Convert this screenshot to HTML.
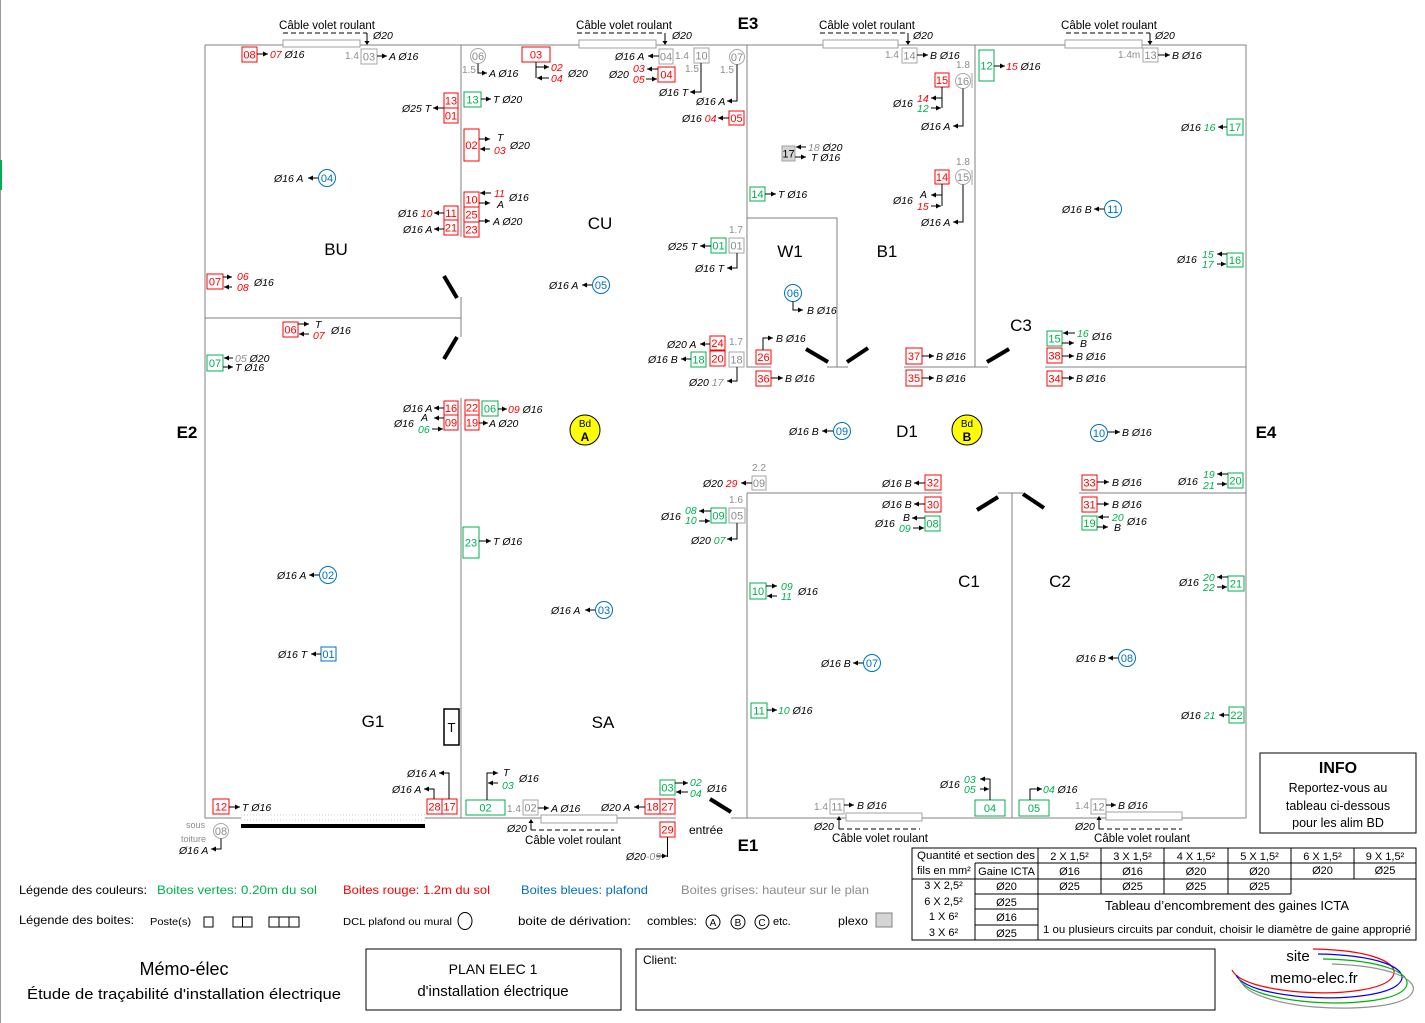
<!DOCTYPE html>
<html><head><meta charset="utf-8"><style>
html,body{margin:0;padding:0;background:#fff;}
svg{display:block}
text{font-family:"Liberation Sans",sans-serif;}
.t{font-size:10.5px;font-style:italic;fill:#000}
.n{font-size:11px;text-anchor:middle}
.R{fill:#f00}.G{fill:#00b050}.B{fill:#0070c0}.Y{fill:#8c8c8c}.K{fill:#000}
.br{fill:#fff;stroke:#f00}.bg{fill:#fff;stroke:#00b050}.bb{fill:#fff;stroke:#0070c0}.by{fill:#fff;stroke:#a6a6a6}
.w{stroke:#808080;fill:none;stroke-width:1}
.a{stroke:#000;stroke-width:1;fill:none;marker-end:url(#m)}
.p{stroke:#000;stroke-width:1;fill:none}
.d{stroke:#000;stroke-width:4}
.h{font-size:10px;fill:#8c8c8c}
.rm{font-size:17px;text-anchor:middle}
.E{font-size:17px;font-weight:bold;text-anchor:middle}
.cv{font-size:11.5px;text-anchor:middle}
.win{fill:#fff;stroke:#a0a0a0}
.dash{stroke:#000;stroke-dasharray:5,3;fill:none}
.tb{stroke:#000;fill:none;stroke-width:1}
.tt{font-size:11px;text-anchor:middle}
.lg{font-size:12px}
</style></head><body>
<svg width="1425" height="1023" viewBox="0 0 1425 1023" xmlns="http://www.w3.org/2000/svg">
<defs><marker id="m" markerWidth="6" markerHeight="6" refX="5" refY="2.5" orient="auto" markerUnits="userSpaceOnUse"><path d="M0,0L5,2.5L0,5z" fill="#000"/></marker></defs>
<rect x="0" y="0" width="1425" height="1023" fill="#fff"/>
<line x1="0.5" y1="0" x2="0.5" y2="1023" stroke="#999"/>
<rect x="0" y="160" width="2" height="30" fill="#00b050"/>

<!-- walls -->
<path class="w" d="M205,45H1246V818M205,45V818H241M425,818H676M731,818H1246M461,45V237M461,297V337M461,398V818M205,318H461M747,45V367H771M747,218H837V367M827,367H848M975,45V367M904,367H988M1045,367H1246M747,493V818M747,493H942M998,493H1023M1012,493V818M1079,493H1246"/>
<rect x="241" y="815" width="184" height="5" fill="none" stroke="#ccc" stroke-dasharray="1,2"/>
<line x1="241" y1="826" x2="425" y2="826" stroke="#000" stroke-width="4"/>

<!-- doors -->
<line class="d" x1="444" y1="276" x2="457" y2="298"/>
<line class="d" x1="444" y1="359" x2="457" y2="337"/>
<line class="d" x1="806" y1="349" x2="828" y2="362"/>
<line class="d" x1="847" y1="362" x2="868" y2="348"/>
<line class="d" x1="987" y1="362" x2="1009" y2="349"/>
<line class="d" x1="977" y1="510" x2="998" y2="497"/>
<line class="d" x1="1023" y1="494" x2="1044" y2="508"/>
<line class="d" x1="710" y1="799" x2="731" y2="812"/>

<!-- top cables -->
<text class="cv" x="327" y="29">Câble volet roulant</text>
<path class="dash" d="M283,33H367"/><path class="p" d="M367,33V41"/><path d="M364.5,41L369.5,41L367,45z"/>
<text class="t" x="373" y="39">Ø20</text>
<rect class="win" x="283" y="40" width="77" height="7"/>

<text class="cv" x="624" y="29">Câble volet roulant</text>
<path class="dash" d="M577,33H665"/><path class="p" d="M665,33V41"/><path d="M662.5,41L667.5,41L665,45z"/>
<text class="t" x="672" y="39">Ø20</text>
<rect class="win" x="579" y="40" width="77" height="8"/>

<text class="cv" x="867" y="29">Câble volet roulant</text>
<path class="dash" d="M820,33H908"/><path class="p" d="M908,33V41"/><path d="M905.5,41L910.5,41L908,45z"/>
<text class="t" x="913" y="39">Ø20</text>
<rect class="win" x="823" y="40" width="75" height="8"/>

<text class="cv" x="1109" y="29">Câble volet roulant</text>
<path class="dash" d="M1066,33H1150"/><path class="p" d="M1150,33V41"/><path d="M1147.5,41L1152.5,41L1150,45z"/>
<text class="t" x="1155" y="39">Ø20</text>
<rect class="win" x="1065" y="40" width="77" height="8"/>

<!-- E labels -->
<text class="E" x="748" y="29">E3</text>
<text class="E" x="187" y="438">E2</text>
<text class="E" x="1266" y="438">E4</text>
<text class="E" x="748" y="851">E1</text>

<!-- room labels -->
<text class="rm" x="336" y="255">BU</text>
<text class="rm" x="600" y="229">CU</text>
<text class="rm" x="790" y="257">W1</text>
<text class="rm" x="887" y="257">B1</text>
<text class="rm" x="1021" y="331">C3</text>
<text class="rm" x="907" y="437">D1</text>
<text class="rm" x="969" y="587">C1</text>
<text class="rm" x="1060" y="587">C2</text>
<text class="rm" x="373" y="727">G1</text>
<text class="rm" x="603" y="728">SA</text>

<!-- ===== RED BOXES ===== -->
<rect class="br" x="242" y="47" width="15" height="15"/><text class="n R" x="249.5" y="58.5">08</text>
<rect class="br" x="522" y="47" width="28" height="15"/><text class="n R" x="536" y="58.5">03</text>
<rect class="br" x="658" y="67" width="17" height="15"/><text class="n R" x="666.5" y="78.5">04</text>
<rect class="br" x="729" y="111" width="15" height="14"/><text class="n R" x="736.5" y="122">05</text>
<rect class="br" x="444" y="93" width="14" height="15"/><text class="n R" x="451" y="104.5">13</text>
<rect class="br" x="444" y="108" width="14" height="15"/><text class="n R" x="451" y="119.5">01</text>
<rect class="br" x="464" y="129" width="15" height="32"/><text class="n R" x="471.5" y="149">02</text>
<rect class="br" x="444" y="206" width="14" height="14"/><text class="n R" x="451" y="217">11</text>
<rect class="br" x="444" y="220" width="14" height="15"/><text class="n R" x="451" y="231.5">21</text>
<rect class="br" x="464" y="192" width="15" height="15"/><text class="n R" x="471.5" y="203.5">10</text>
<rect class="br" x="464" y="207" width="15" height="15"/><text class="n R" x="471.5" y="218.5">25</text>
<rect class="br" x="464" y="222" width="15" height="15"/><text class="n R" x="471.5" y="233.5">23</text>
<rect class="br" x="935" y="73" width="14" height="14"/><text class="n R" x="942" y="84">15</text>
<rect class="br" x="935" y="170" width="14" height="14"/><text class="n R" x="942" y="181">14</text>
<rect class="br" x="207" y="274" width="16" height="15"/><text class="n R" x="215" y="285.5">07</text>
<rect class="br" x="283" y="322" width="15" height="15"/><text class="n R" x="290.5" y="333.5">06</text>
<rect class="br" x="444" y="401" width="14" height="14"/><text class="n R" x="451" y="412">16</text>
<rect class="br" x="444" y="415" width="14" height="15"/><text class="n R" x="451" y="426.5">09</text>
<rect class="br" x="465" y="400" width="14" height="15"/><text class="n R" x="472" y="411.5">22</text>
<rect class="br" x="465" y="415" width="14" height="15"/><text class="n R" x="472" y="426.5">19</text>
<rect class="br" x="710" y="336" width="15" height="14"/><text class="n R" x="717.5" y="347">24</text>
<rect class="br" x="710" y="351" width="15" height="15"/><text class="n R" x="717.5" y="362.5">20</text>
<rect class="br" x="756" y="350" width="15" height="14"/><text class="n R" x="763.5" y="361">26</text>
<rect class="br" x="756" y="371" width="15" height="15"/><text class="n R" x="763.5" y="382.5">36</text>
<rect class="br" x="906" y="348" width="16" height="16"/><text class="n R" x="914" y="360">37</text>
<rect class="br" x="906" y="370" width="16" height="16"/><text class="n R" x="914" y="382">35</text>
<rect class="br" x="1047" y="348" width="15" height="15"/><text class="n R" x="1054.5" y="359.5">38</text>
<rect class="br" x="1047" y="371" width="15" height="15"/><text class="n R" x="1054.5" y="382.5">34</text>
<rect class="br" x="925" y="475" width="16" height="15"/><text class="n R" x="933" y="486.5">32</text>
<rect class="br" x="925" y="497" width="16" height="15"/><text class="n R" x="933" y="508.5">30</text>
<rect class="br" x="1082" y="475" width="15" height="15"/><text class="n R" x="1089.5" y="486.5">33</text>
<rect class="br" x="1082" y="497" width="15" height="15"/><text class="n R" x="1089.5" y="508.5">31</text>
<rect class="br" x="213" y="799" width="16" height="15"/><text class="n R" x="221" y="810.5">12</text>
<rect class="br" x="427" y="799" width="15" height="15"/><text class="n R" x="434.5" y="810.5">28</text>
<rect class="br" x="442" y="799" width="15" height="15"/><text class="n R" x="449.5" y="810.5">17</text>
<rect class="br" x="645" y="799" width="15" height="15"/><text class="n R" x="652.5" y="810.5">18</text>
<rect class="br" x="660" y="799" width="15" height="15"/><text class="n R" x="667.5" y="810.5">27</text>
<rect class="br" x="660" y="822" width="15" height="15"/><text class="n R" x="667.5" y="833.5">29</text>

<!-- ===== GREEN BOXES ===== -->
<rect class="bg" x="464" y="92" width="17" height="15"/><text class="n G" x="472.5" y="103.5">13</text>
<rect class="bg" x="979" y="50" width="15" height="31"/><text class="n G" x="986.5" y="69.5">12</text>
<rect class="bg" x="750" y="187" width="15" height="14"/><text class="n G" x="757.5" y="198">14</text>
<rect class="bg" x="1227" y="119" width="16" height="16"/><text class="n G" x="1235" y="131">17</text>
<rect class="bg" x="1227" y="253" width="16" height="14"/><text class="n G" x="1235" y="264">16</text>
<rect class="bg" x="711" y="238" width="15" height="15"/><text class="n G" x="718.5" y="249.5">01</text>
<rect class="bg" x="691" y="352" width="15" height="15"/><text class="n G" x="698.5" y="363.5">18</text>
<rect class="bg" x="207" y="355" width="16" height="16"/><text class="n G" x="215" y="367">07</text>
<rect class="bg" x="482" y="401" width="16" height="15"/><text class="n G" x="490" y="412.5">06</text>
<rect class="bg" x="1047" y="331" width="15" height="15"/><text class="n G" x="1054.5" y="342.5">15</text>
<rect class="bg" x="711" y="508" width="15" height="15"/><text class="n G" x="718.5" y="519.5">09</text>
<rect class="bg" x="925" y="516" width="15" height="15"/><text class="n G" x="932.5" y="527.5">08</text>
<rect class="bg" x="1082" y="516" width="15" height="14"/><text class="n G" x="1089.5" y="527">19</text>
<rect class="bg" x="1228" y="473" width="15" height="15"/><text class="n G" x="1235.5" y="484.5">20</text>
<rect class="bg" x="463" y="527" width="16" height="31"/><text class="n G" x="471" y="546.5">23</text>
<rect class="bg" x="750" y="583" width="16" height="16"/><text class="n G" x="758" y="595">10</text>
<rect class="bg" x="1228" y="576" width="16" height="15"/><text class="n G" x="1236" y="587.5">21</text>
<rect class="bg" x="751" y="703" width="16" height="15"/><text class="n G" x="759" y="714.5">11</text>
<rect class="bg" x="1229" y="707" width="15" height="16"/><text class="n G" x="1236.5" y="719">22</text>
<rect class="bg" x="466" y="800" width="39" height="15"/><text class="n G" x="485.5" y="811.5">02</text>
<rect class="bg" x="660" y="780" width="15" height="15"/><text class="n G" x="667.5" y="791.5">03</text>
<rect class="bg" x="975" y="800" width="30" height="16"/><text class="n G" x="990" y="812">04</text>
<rect class="bg" x="1019" y="800" width="30" height="16"/><text class="n G" x="1034" y="812">05</text>

<!-- ===== GREY BOXES ===== -->
<rect class="by" x="361" y="49" width="16" height="15"/><text class="n Y" x="369" y="60.5">03</text>
<rect class="by" x="659" y="49" width="14" height="15"/><text class="n Y" x="666" y="60.5">04</text>
<rect class="by" x="694" y="48" width="15" height="15"/><text class="n Y" x="701.5" y="59.5">10</text>
<rect class="by" x="902" y="48" width="15" height="15"/><text class="n Y" x="909.5" y="59.5">14</text>
<rect class="by" x="1143" y="48" width="15" height="14"/><text class="n Y" x="1150.5" y="59">13</text>
<rect class="by" x="729" y="238" width="15" height="15"/><text class="n Y" x="736.5" y="249.5">01</text>
<rect class="by" x="729" y="352" width="15" height="15"/><text class="n Y" x="736.5" y="363.5">18</text>
<rect class="by" x="752" y="476" width="14" height="14"/><text class="n Y" x="759" y="487">09</text>
<rect class="by" x="729" y="508" width="16" height="15"/><text class="n Y" x="737" y="519.5">05</text>
<rect class="by" x="523" y="800" width="15" height="15"/><text class="n Y" x="530.5" y="811.5">02</text>
<rect class="by" x="830" y="799" width="14" height="15"/><text class="n Y" x="837" y="810.5">11</text>
<rect class="by" x="1091" y="799" width="15" height="15"/><text class="n Y" x="1098.5" y="810.5">12</text>

<!-- grey circles -->
<circle cx="478" cy="56" r="7.5" fill="#fff" stroke="#a6a6a6"/><text class="n Y" x="478" y="60">06</text>
<circle cx="737" cy="57" r="7.5" fill="#fff" stroke="#a6a6a6"/><text class="n Y" x="737" y="61">07</text>
<circle cx="963" cy="81" r="7.5" fill="#fff" stroke="#a6a6a6"/><text class="n Y" x="963" y="85">16</text>
<circle cx="963" cy="177" r="7.5" fill="#fff" stroke="#a6a6a6"/><text class="n Y" x="963" y="181">15</text>
<circle cx="221" cy="831" r="7.5" fill="#fff" stroke="#a6a6a6"/><text class="n Y" x="221" y="835">08</text>
<line x1="972" y1="73" x2="972" y2="88" stroke="#a6a6a6"/>
<line x1="972" y1="170" x2="972" y2="185" stroke="#a6a6a6"/>

<!-- blue circles -->
<circle cx="327" cy="178" r="8.5" fill="#fff" stroke="#0070c0"/><text class="n B" x="327" y="182">04</text>
<circle cx="601" cy="285" r="8.5" fill="#fff" stroke="#0070c0"/><text class="n B" x="601" y="289">05</text>
<circle cx="793" cy="293" r="8.5" fill="#fff" stroke="#0070c0"/><text class="n B" x="793" y="297">06</text>
<circle cx="1113" cy="209" r="8.5" fill="#fff" stroke="#0070c0"/><text class="n B" x="1113" y="213">11</text>
<circle cx="842" cy="431" r="8.5" fill="#fff" stroke="#0070c0"/><text class="n B" x="842" y="435">09</text>
<circle cx="1099" cy="433" r="8.5" fill="#fff" stroke="#0070c0"/><text class="n B" x="1099" y="437">10</text>
<circle cx="328" cy="575" r="8.5" fill="#fff" stroke="#0070c0"/><text class="n B" x="328" y="579">02</text>
<circle cx="604" cy="610" r="8.5" fill="#fff" stroke="#0070c0"/><text class="n B" x="604" y="614">03</text>
<circle cx="872" cy="663" r="8.5" fill="#fff" stroke="#0070c0"/><text class="n B" x="872" y="667">07</text>
<circle cx="1127" cy="658" r="8.5" fill="#fff" stroke="#0070c0"/><text class="n B" x="1127" y="662">08</text>
<rect class="bb" x="321" y="647" width="15" height="14"/><text class="n B" x="328.5" y="658">01</text>

<!-- plexo 17 -->
<rect x="782" y="146" width="13" height="15" fill="#d4d4d4" stroke="#a0a0a0"/><text class="n K" x="788.5" y="157.5">17</text>

<!-- Bd circles -->
<circle cx="585" cy="430" r="15" fill="#ffff00" stroke="#000"/>
<text x="585" y="427" font-size="10" text-anchor="middle">Bd</text>
<text x="585" y="441" font-size="12" font-weight="bold" text-anchor="middle">A</text>
<circle cx="967" cy="430" r="15" fill="#ffff00" stroke="#000"/>
<text x="967" y="427" font-size="10" text-anchor="middle">Bd</text>
<text x="967" y="441" font-size="12" font-weight="bold" text-anchor="middle">B</text>

<!-- T box -->
<rect x="444" y="709" width="15" height="36" fill="#fff" stroke="#000" stroke-width="1.5"/>
<text x="451.5" y="732" font-size="13" text-anchor="middle">T</text>

<!-- ===== LABELS & ARROWS: top ===== -->
<line class="a" x1="257" y1="54" x2="268" y2="54"/>
<text class="t" x="270" y="58"><tspan class="R">07</tspan> Ø16</text>
<text class="h" x="345" y="59">1.4</text>
<line class="a" x1="377" y1="56" x2="387" y2="56"/>
<text class="t" x="389" y="60">A Ø16</text>

<text class="h" x="462" y="73">1.5</text>
<path class="a" d="M478,63.5V73H487"/>
<text class="t" x="489" y="77">A Ø16</text>

<path class="p" d="M536,62V78"/>
<line class="a" x1="536" y1="67" x2="549" y2="67"/>
<line class="a" x1="549" y1="78" x2="537" y2="78"/>
<text class="t R" x="551" y="71">02</text><text class="t R" x="551" y="82">04</text>
<text class="t" x="568" y="77">Ø20</text>

<line class="a" x1="659" y1="56" x2="648" y2="56"/>
<text class="t" x="615" y="60">Ø16 A</text>
<text class="h" x="675" y="59">1.4</text>

<line class="a" x1="658" y1="69" x2="647" y2="69"/>
<line class="a" x1="646" y1="79" x2="657" y2="79"/>
<text class="t" x="609" y="78">Ø20</text>
<text class="t R" x="633" y="72">03</text><text class="t R" x="633" y="83">05</text>

<text class="h" x="685" y="72">1.5</text>
<path class="a" d="M701,63V92H690"/>
<text class="t" x="659" y="96">Ø16 T</text>
<text class="h" x="720" y="73">1.5</text>
<path class="a" d="M737,64.5V101H727"/>
<text class="t" x="696" y="105">Ø16 A</text>
<line class="a" x1="729" y1="118" x2="718" y2="118"/>
<text class="t" x="682" y="122">Ø16 <tspan class="R">04</tspan></text>

<line class="a" x1="444" y1="108" x2="433" y2="108"/>
<text class="t" x="402" y="112">Ø25 T</text>
<line class="a" x1="481" y1="99" x2="491" y2="99"/>
<text class="t" x="493" y="103">T Ø20</text>
<line class="a" x1="479" y1="139" x2="490" y2="139"/>
<text class="t" x="497" y="141">T</text>
<line class="a" x1="490" y1="149" x2="480" y2="149"/>
<text class="t R" x="494" y="154">03</text>
<text class="t" x="510" y="149">Ø20</text>

<line class="a" x1="318" y1="178" x2="308" y2="178"/>
<text class="t" x="274" y="182">Ø16 A</text>

<line class="a" x1="444" y1="213" x2="434" y2="213"/>
<text class="t" x="398" y="217">Ø16 <tspan class="R">10</tspan></text>
<line class="a" x1="444" y1="229" x2="434" y2="229"/>
<text class="t" x="403" y="233">Ø16 A</text>

<line class="a" x1="491" y1="193" x2="480" y2="193"/>
<text class="t R" x="494" y="197">11</text>
<line class="a" x1="479" y1="203" x2="490" y2="203"/>
<text class="t" x="497" y="208">A</text>
<text class="t" x="509" y="201">Ø16</text>
<line class="a" x1="479" y1="221" x2="490" y2="221"/>
<text class="t" x="493" y="225">A Ø20</text>

<line class="a" x1="806" y1="147" x2="796" y2="147"/>
<text class="t" x="808" y="151"><tspan class="Y">18</tspan> Ø20</text>
<line class="a" x1="795" y1="157" x2="806" y2="157"/>
<text class="t" x="811" y="161">T Ø16</text>
<line class="a" x1="765" y1="194" x2="776" y2="194"/>
<text class="t" x="778" y="198">T Ø16</text>

<text class="h" x="885" y="58">1.4</text>
<line class="a" x1="917" y1="55" x2="928" y2="55"/>
<text class="t" x="930" y="59">B Ø16</text>

<text class="h" x="956" y="68">1.8</text>
<path class="p" d="M942,87V108"/>
<line class="a" x1="942" y1="98" x2="931" y2="98"/>
<line class="a" x1="931" y1="108" x2="941" y2="108"/>
<text class="t R" x="917" y="102">14</text><text class="t G" x="917" y="112">12</text>
<text class="t" x="893" y="107">Ø16</text>
<path class="a" d="M963,88.5V126H953"/>
<text class="t" x="921" y="130">Ø16 A</text>

<text class="h" x="956" y="165">1.8</text>
<path class="p" d="M942,184V206"/>
<line class="a" x1="942" y1="195" x2="931" y2="195"/>
<text class="t" x="920" y="198">A</text>
<line class="a" x1="931" y1="206" x2="941" y2="206"/>
<text class="t R" x="917" y="210">15</text>
<text class="t" x="893" y="204">Ø16</text>
<path class="a" d="M963,184.5V222H953"/>
<text class="t" x="921" y="226">Ø16 A</text>

<line class="a" x1="994" y1="66" x2="1005" y2="66"/>
<text class="t" x="1006" y="70"><tspan class="R">15</tspan> Ø16</text>

<text class="h" x="1118" y="58">1.4m</text>
<line class="a" x1="1158" y1="55" x2="1170" y2="55"/>
<text class="t" x="1172" y="59">B Ø16</text>

<line class="a" x1="1227" y1="127" x2="1218" y2="127"/>
<text class="t" x="1181" y="131">Ø16 <tspan class="G">16</tspan></text>
<line class="a" x1="1104" y1="209" x2="1094" y2="209"/>
<text class="t" x="1062" y="213">Ø16 B</text>
<line class="a" x1="1227" y1="254" x2="1217" y2="254"/>
<line class="a" x1="1217" y1="264" x2="1226" y2="264"/>
<text class="t G" x="1202" y="258">15</text><text class="t G" x="1202" y="268">17</text>
<text class="t" x="1177" y="263">Ø16</text>

<!-- ===== middle ===== -->
<text class="h" x="729" y="233">1.7</text>
<line class="a" x1="711" y1="246" x2="700" y2="246"/>
<text class="t" x="668" y="250">Ø25 T</text>
<path class="a" d="M737,253V268H727"/>
<text class="t" x="695" y="272">Ø16 T</text>

<line class="a" x1="592" y1="285" x2="582" y2="285"/>
<text class="t" x="549" y="289">Ø16 A</text>
<path class="a" d="M793,301.5V310H803"/>
<text class="t" x="807" y="314">B Ø16</text>

<text class="h" x="729" y="345">1.7</text>
<line class="a" x1="710" y1="344" x2="700" y2="344"/>
<text class="t" x="667" y="348">Ø20 A</text>
<line class="a" x1="691" y1="359" x2="681" y2="359"/>
<text class="t" x="648" y="363">Ø16 B</text>
<path class="a" d="M737,367V381H727"/>
<text class="t" x="689" y="386">Ø20 <tspan class="Y">17</tspan></text>

<path class="a" d="M763,350V338H773"/>
<text class="t" x="776" y="342">B Ø16</text>
<line class="a" x1="771" y1="378" x2="783" y2="378"/>
<text class="t" x="785" y="382">B Ø16</text>
<line class="a" x1="922" y1="356" x2="934" y2="356"/>
<text class="t" x="936" y="360">B Ø16</text>
<line class="a" x1="922" y1="378" x2="934" y2="378"/>
<text class="t" x="936" y="382">B Ø16</text>

<line class="a" x1="1075" y1="333" x2="1063" y2="333"/>
<text class="t G" x="1077" y="337">16</text>
<line class="a" x1="1062" y1="343" x2="1074" y2="343"/>
<text class="t" x="1080" y="347">B</text>
<text class="t" x="1092" y="340">Ø16</text>
<line class="a" x1="1062" y1="356" x2="1074" y2="356"/>
<text class="t" x="1076" y="360">B Ø16</text>
<line class="a" x1="1062" y1="378" x2="1074" y2="378"/>
<text class="t" x="1076" y="382">B Ø16</text>

<line class="a" x1="223" y1="277" x2="232" y2="277"/>
<line class="a" x1="232" y1="287" x2="224" y2="287"/>
<text class="t R" x="237" y="280">06</text><text class="t R" x="237" y="291">08</text>
<text class="t" x="254" y="286">Ø16</text>

<line class="a" x1="298" y1="324" x2="309" y2="324"/>
<text class="t" x="315" y="328">T</text>
<line class="a" x1="309" y1="334" x2="299" y2="334"/>
<text class="t R" x="313" y="339">07</text>
<text class="t" x="331" y="334">Ø16</text>

<line class="a" x1="233" y1="358" x2="224" y2="358"/>
<text class="t" x="235" y="362"><tspan class="Y">05</tspan> Ø20</text>
<line class="a" x1="223" y1="367" x2="233" y2="367"/>
<text class="t" x="235" y="371">T Ø16</text>

<line class="a" x1="444" y1="408" x2="434" y2="408"/>
<text class="t" x="403" y="412">Ø16 A</text>
<line class="a" x1="444" y1="418" x2="434" y2="418"/>
<text class="t" x="421" y="421">A</text>
<line class="a" x1="432" y1="429" x2="443" y2="429"/>
<text class="t G" x="418" y="433">06</text>
<text class="t" x="394" y="427">Ø16</text>

<line class="a" x1="498" y1="409" x2="507" y2="409"/>
<text class="t" x="508" y="413"><tspan class="R">09</tspan> Ø16</text>
<line class="a" x1="479" y1="423" x2="488" y2="423"/>
<text class="t" x="489" y="427">A Ø20</text>

<line class="a" x1="833" y1="431" x2="822" y2="431"/>
<text class="t" x="789" y="435">Ø16 B</text>
<line class="a" x1="1108" y1="432" x2="1120" y2="432"/>
<text class="t" x="1122" y="436">B Ø16</text>

<!-- ===== lower ===== -->
<text class="h" x="752" y="471">2.2</text>
<line class="a" x1="752" y1="483" x2="741" y2="483"/>
<text class="t" x="703" y="487">Ø20 <tspan class="R">29</tspan></text>
<text class="h" x="729" y="503">1.6</text>
<line class="a" x1="711" y1="511" x2="699" y2="511"/>
<text class="t G" x="685" y="514">08</text>
<line class="a" x1="699" y1="521" x2="710" y2="521"/>
<text class="t G" x="685" y="524">10</text>
<text class="t" x="661" y="520">Ø16</text>
<path class="a" d="M737,523V539H727"/>
<text class="t" x="691" y="544">Ø20 <tspan class="G">07</tspan></text>

<line class="a" x1="479" y1="541" x2="491" y2="541"/>
<text class="t" x="493" y="545">T Ø16</text>

<line class="a" x1="925" y1="483" x2="914" y2="483"/>
<text class="t" x="882" y="487">Ø16 B</text>
<line class="a" x1="925" y1="504" x2="914" y2="504"/>
<text class="t" x="882" y="508">Ø16 B</text>
<line class="a" x1="925" y1="518" x2="912" y2="518"/>
<text class="t" x="903" y="521">B</text>
<line class="a" x1="913" y1="528" x2="924" y2="528"/>
<text class="t G" x="899" y="532">09</text>
<text class="t" x="875" y="527">Ø16</text>

<line class="a" x1="1097" y1="482" x2="1109" y2="482"/>
<text class="t" x="1112" y="486">B Ø16</text>
<line class="a" x1="1097" y1="504" x2="1109" y2="504"/>
<text class="t" x="1112" y="508">B Ø16</text>
<line class="a" x1="1109" y1="517" x2="1098" y2="517"/>
<text class="t G" x="1112" y="521">20</text>
<line class="a" x1="1097" y1="527" x2="1108" y2="527"/>
<text class="t" x="1114" y="531">B</text>
<text class="t" x="1127" y="525">Ø16</text>

<line class="a" x1="1228" y1="474" x2="1217" y2="474"/>
<text class="t G" x="1203" y="478">19</text>
<line class="a" x1="1217" y1="484" x2="1227" y2="484"/>
<text class="t G" x="1203" y="489">21</text>
<text class="t" x="1178" y="485">Ø16</text>

<line class="a" x1="766" y1="586" x2="777" y2="586"/>
<text class="t G" x="781" y="590">09</text>
<line class="a" x1="777" y1="596" x2="767" y2="596"/>
<text class="t G" x="781" y="600">11</text>
<text class="t" x="798" y="595">Ø16</text>

<line class="a" x1="1228" y1="577" x2="1217" y2="577"/>
<text class="t G" x="1203" y="581">20</text>
<line class="a" x1="1217" y1="587" x2="1227" y2="587"/>
<text class="t G" x="1203" y="591">22</text>
<text class="t" x="1179" y="586">Ø16</text>

<line class="a" x1="319" y1="575" x2="309" y2="575"/>
<text class="t" x="277" y="579">Ø16 A</text>
<line class="a" x1="595" y1="610" x2="585" y2="610"/>
<text class="t" x="551" y="614">Ø16 A</text>
<line class="a" x1="321" y1="654" x2="311" y2="654"/>
<text class="t" x="278" y="658">Ø16 T</text>
<line class="a" x1="863" y1="663" x2="853" y2="663"/>
<text class="t" x="821" y="667">Ø16 B</text>
<line class="a" x1="1118" y1="658" x2="1108" y2="658"/>
<text class="t" x="1076" y="662">Ø16 B</text>
<line class="a" x1="767" y1="710" x2="777" y2="710"/>
<text class="t" x="778" y="714"><tspan class="G">10</tspan> Ø16</text>
<line class="a" x1="1229" y1="715" x2="1219" y2="715"/>
<text class="t" x="1181" y="719">Ø16 <tspan class="G">21</tspan></text>

<!-- ===== bottom ===== -->
<line class="a" x1="229" y1="807" x2="240" y2="807"/>
<text class="t" x="242" y="811">T Ø16</text>
<path class="a" d="M449,799V773H439"/>
<text class="t" x="407" y="777">Ø16 A</text>
<path class="a" d="M434,799V789H424"/>
<text class="t" x="392" y="793">Ø16 A</text>

<text class="h" x="186" y="828" style="font-size:9px">sous</text>
<text class="h" x="181" y="842" style="font-size:9px">toiture</text>
<path class="a" d="M221,838.5V849H211"/>
<text class="t" x="179" y="854">Ø16 A</text>

<path class="a" d="M487,800V773H498"/>
<text class="t" x="503" y="776">T</text>
<line class="a" x1="498" y1="783" x2="488" y2="783"/>
<text class="t G" x="502" y="789">03</text>
<text class="t" x="519" y="782">Ø16</text>

<text class="h" x="507" y="812">1.4</text>
<line class="a" x1="538" y1="808" x2="549" y2="808"/>
<text class="t" x="551" y="812">A Ø16</text>
<rect class="win" x="541" y="815" width="76" height="8"/>
<path d="M528.5,823L533.5,823L531,819z"/>
<path class="p" d="M531,823V830"/><path class="dash" d="M531,830H614"/>
<text class="t" x="507" y="832">Ø20</text>
<text class="cv" x="573" y="844">Câble volet roulant</text>

<line class="a" x1="645" y1="807" x2="634" y2="807"/>
<text class="t" x="601" y="811">Ø20 A</text>
<line class="a" x1="675" y1="783" x2="688" y2="783"/>
<text class="t G" x="690" y="786">02</text>
<line class="a" x1="688" y1="792" x2="676" y2="792"/>
<text class="t G" x="690" y="797">04</text>
<text class="t" x="707" y="792">Ø16</text>

<path class="p" d="M667.5,837V857"/>
<line class="a" x1="656" y1="856" x2="667" y2="856"/>
<text class="t" x="626" y="860">Ø20<tspan class="Y">-09</tspan></text>
<text x="689" y="834" font-size="12">entrée</text>

<text class="h" x="814" y="810">1.4</text>
<line class="a" x1="844" y1="805" x2="854" y2="805"/>
<text class="t" x="857" y="809">B Ø16</text>
<rect class="win" x="846" y="813" width="76" height="8"/>
<path d="M836.5,820L841.5,820L839,816z"/>
<path class="p" d="M839,820V829"/><path class="dash" d="M839,829H920"/>
<text class="t" x="814" y="830">Ø20</text>
<text class="cv" x="880" y="842">Câble volet roulant</text>

<path class="p" d="M990,800V779"/>
<line class="a" x1="990" y1="779" x2="980" y2="779"/>
<line class="a" x1="980" y1="789" x2="989" y2="789"/>
<text class="t G" x="964" y="783">03</text><text class="t G" x="964" y="793">05</text>
<text class="t" x="940" y="788">Ø16</text>

<path class="a" d="M1030,800V789H1042"/>
<text class="t" x="1043" y="793"><tspan class="G">04</tspan> Ø16</text>

<text class="h" x="1075" y="809">1.4</text>
<line class="a" x1="1106" y1="805" x2="1116" y2="805"/>
<text class="t" x="1118" y="809">B Ø16</text>
<rect class="win" x="1106" y="812" width="76" height="8"/>
<path d="M1096.5,820L1101.5,820L1099,816z"/>
<path class="p" d="M1099,820V829"/><path class="dash" d="M1099,829H1182"/>
<text class="t" x="1075" y="830">Ø20</text>
<text class="cv" x="1142" y="842">Câble volet roulant</text>

<!-- INFO -->
<rect x="1260" y="753" width="156" height="80" fill="#fff" stroke="#000"/>
<text x="1338" y="773" font-size="16" font-weight="bold" text-anchor="middle">INFO</text>
<text x="1338" y="792" font-size="12.5" text-anchor="middle">Reportez-vous au</text>
<text x="1338" y="810" font-size="12.5" text-anchor="middle">tableau ci-dessous</text>
<text x="1338" y="827" font-size="12.5" text-anchor="middle">pour les alim BD</text>

<!-- table -->
<rect class="tb" x="912" y="848" width="504" height="92"/>
<path class="tb" d="M975,863V940M1038,848V940M1101,848V894M1164,848V894M1228,848V894M1291,848V894M1354,848V879M975,863H1416M912,879H1416M975,894H1291M975,909H1038M975,925H1038"/>
<text x="917" y="859" font-size="11" textLength="118" lengthAdjust="spacingAndGlyphs">Quantité et section des</text>
<text x="917" y="874" font-size="11">fils en mm²</text>
<text class="tt" x="1006.5" y="875">Gaine ICTA</text>
<text class="tt" x="1069.5" y="860">2 X 1,5²</text>
<text class="tt" x="1132.5" y="860">3 X 1,5²</text>
<text class="tt" x="1196" y="860">4 X 1,5²</text>
<text class="tt" x="1259.5" y="860">5 X 1,5²</text>
<text class="tt" x="1322.5" y="860">6 X 1,5²</text>
<text class="tt" x="1385" y="860">9 X 1,5²</text>
<text class="tt" x="1069.5" y="875">Ø16</text>
<text class="tt" x="1132.5" y="875">Ø16</text>
<text class="tt" x="1196" y="875">Ø20</text>
<text class="tt" x="1259.5" y="875">Ø20</text>
<text class="tt" x="1322.5" y="874">Ø20</text>
<text class="tt" x="1385" y="874">Ø25</text>
<text class="tt" x="943.5" y="889">3 X 2,5²</text>
<text class="tt" x="1006.5" y="890">Ø20</text>
<text class="tt" x="1069.5" y="890">Ø25</text>
<text class="tt" x="1132.5" y="890">Ø25</text>
<text class="tt" x="1196" y="890">Ø25</text>
<text class="tt" x="1259.5" y="890">Ø25</text>
<text class="tt" x="943.5" y="905">6 X 2,5²</text>
<text class="tt" x="1006.5" y="906">Ø25</text>
<text class="tt" x="943.5" y="920">1 X 6²</text>
<text class="tt" x="1006.5" y="921">Ø16</text>
<text class="tt" x="943.5" y="936">3 X 6²</text>
<text class="tt" x="1006.5" y="937">Ø25</text>
<text x="1227" y="910" font-size="12.5" text-anchor="middle" textLength="244" lengthAdjust="spacingAndGlyphs">Tableau d’encombrement des gaines ICTA</text>
<text x="1227" y="933" font-size="11" text-anchor="middle" textLength="368" lengthAdjust="spacingAndGlyphs">1 ou plusieurs circuits par conduit, choisir le diamètre de gaine approprié</text>

<!-- legend -->
<text class="lg" x="19" y="894" textLength="128" lengthAdjust="spacingAndGlyphs">Légende des couleurs:</text>
<text class="lg" x="157" y="894" fill="#00b050" textLength="160" lengthAdjust="spacingAndGlyphs">Boites vertes:  0.20m du sol</text>
<text class="lg" x="343" y="894" fill="#f00" textLength="147" lengthAdjust="spacingAndGlyphs">Boites rouge: 1.2m du sol</text>
<text class="lg" x="521" y="894" fill="#0070c0" textLength="127" lengthAdjust="spacingAndGlyphs">Boites bleues: plafond</text>
<text class="lg" x="681" y="894" fill="#8c8c8c" textLength="188" lengthAdjust="spacingAndGlyphs">Boites grises: hauteur sur le plan</text>
<text class="lg" x="19" y="924" textLength="115" lengthAdjust="spacingAndGlyphs">Légende des boites:</text>
<text x="150" y="925" font-size="10" textLength="41" lengthAdjust="spacingAndGlyphs">Poste(s)</text>
<rect x="204" y="917" width="9" height="10" fill="none" stroke="#000"/>
<rect x="233" y="917" width="19" height="10" fill="none" stroke="#000"/><line x1="242.5" y1="917" x2="242.5" y2="927" stroke="#000"/>
<rect x="269" y="917" width="30" height="10" fill="none" stroke="#000"/><line x1="279" y1="917" x2="279" y2="927" stroke="#000"/><line x1="289" y1="917" x2="289" y2="927" stroke="#000"/>
<text x="343" y="925" font-size="10" textLength="109" lengthAdjust="spacingAndGlyphs">DCL plafond ou mural</text>
<ellipse cx="465" cy="921" rx="7" ry="8.5" fill="none" stroke="#000"/>
<text class="lg" x="518" y="925" textLength="113" lengthAdjust="spacingAndGlyphs">boite de dérivation:</text>
<text class="lg" x="647" y="925" textLength="50" lengthAdjust="spacingAndGlyphs">combles:</text>
<circle cx="713" cy="922" r="7" fill="none" stroke="#000"/><text x="713" y="926" font-size="10" text-anchor="middle">A</text>
<circle cx="738" cy="922" r="7" fill="none" stroke="#000"/><text x="738" y="926" font-size="10" text-anchor="middle">B</text>
<circle cx="762" cy="922" r="7" fill="none" stroke="#000"/><text x="762" y="926" font-size="10" text-anchor="middle">C</text>
<text x="773" y="925" font-size="11">etc.</text>
<text class="lg" x="838" y="925" textLength="30" lengthAdjust="spacingAndGlyphs">plexo</text>
<rect x="876" y="913" width="16" height="14" fill="#d4d4d4" stroke="#808080"/>

<!-- title blocks -->
<text x="184" y="975" font-size="18" text-anchor="middle">Mémo-élec</text>
<text x="184" y="999" font-size="15" text-anchor="middle" textLength="314" lengthAdjust="spacingAndGlyphs">Étude de traçabilité d'installation électrique</text>
<rect x="366" y="949" width="255" height="61" fill="#fff" stroke="#000"/>
<text x="493" y="974" font-size="14" text-anchor="middle">PLAN ELEC 1</text>
<text x="493" y="996" font-size="15" text-anchor="middle">d'installation électrique</text>
<rect x="636" y="949" width="579" height="61" fill="#fff" stroke="#000"/>
<text x="643" y="964" font-size="12">Client:</text>

<!-- logo -->
<path d="M1313,949 C1372,950 1400,963 1393,976 C1386,990 1340,995 1300,992 C1265,989 1238,982 1232,970" fill="none" stroke="#f00" stroke-width="1.2"/>
<path d="M1318,954 C1378,955 1408,968 1401,981 C1393,995 1345,1000 1305,997 C1270,994 1242,987 1236,975" fill="none" stroke="#00f" stroke-width="1.2"/>
<path d="M1323,959 C1385,960 1413,974 1406,987 C1398,1001 1350,1005 1310,1002 C1275,999 1245,991 1239,979" fill="none" stroke="#00b000" stroke-width="1.2"/>
<path d="M1332,964 C1392,966 1420,980 1412,993 C1404,1007 1355,1010 1315,1007 C1280,1004 1248,995 1242,983" fill="none" stroke="#909090" stroke-width="1.2"/>
<text x="1298" y="961" font-size="15" text-anchor="middle">site</text>
<text x="1314" y="983" font-size="15" text-anchor="middle">memo-elec.fr</text>
</svg>
</body></html>
